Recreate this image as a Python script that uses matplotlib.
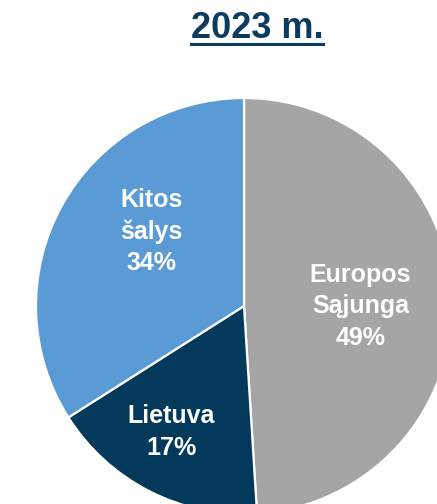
#Pie chart of the 2023 split by region.
#coding: utf-8

import numpy as np
import matplotlib
matplotlib.use("Agg")
import matplotlib.pyplot as plt
from matplotlib.lines import Line2D

TITLE="2023 m."
labels=["Europos\nSąjunga","Lietuva","Kitos\nšalys"]
values=[49,17,34]
colors=["#A5A5A5","#033A5C","#5B9BD5"]

plt.rcParams["font.family"]=["Liberation Sans","DejaVu Sans"]

fig=plt.figure(figsize=(4.37,5.04),dpi=100)
#pie centre is around (244,306) px with radius 208 px, bottom and right run off the picture
ax=fig.add_axes([36/437,-10/504,416/437,416/504])
wedges,_=ax.pie(values,colors=colors,startangle=90,counterclock=False,
                wedgeprops=dict(edgecolor="white",linewidth=1.6))
ax.set_xlim(-1,1)
ax.set_ylim(-1,1)
ax.set_aspect("equal")
ax.axis("off")

#label radius and small angle tweak for each slice
dist=[0.56,0.70,0.57]
shift=[-2,-3,-10]
for w,lab,v,d,s in zip(wedges,labels,values,dist,shift):
    ang=np.deg2rad((w.theta1+w.theta2)/2+s)
    ax.text(d*np.cos(ang),d*np.sin(ang),"%s\n%d%%"%(lab,v),color="white",
            fontsize=18,fontweight="bold",ha="center",va="center",
            multialignment="center",linespacing=1.38)

t=fig.text(257/437,1-38/504,TITLE,fontsize=26,fontweight="bold",color="#0B3B5E",
           ha="center",va="baseline")

#underline the title
fig.canvas.draw()
bb=t.get_window_extent().transformed(fig.transFigure.inverted())
yline=1-43.5/504
fig.add_artist(Line2D([bb.x0,bb.x1],[yline,yline],transform=fig.transFigure,
                      color="#0B3B5E",linewidth=2.2))

plt.savefig("out.png",dpi=100)
